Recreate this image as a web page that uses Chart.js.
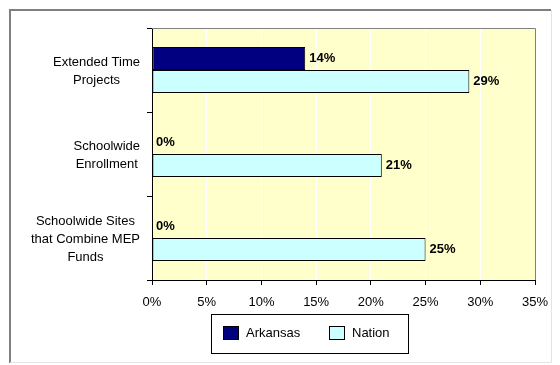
<!DOCTYPE html>
<html>
<head>
<meta charset="utf-8">
<script src="https://cdn.jsdelivr.net/npm/chart.js@4/dist/chart.umd.min.js"></script>
<style>
  body { margin: 0; background: #ffffff; }
  canvas { display: block; }
</style>
</head>
<body>
<canvas id="programChart" width="560" height="365"></canvas>
<script>
let categories = [
    ["Extended Time", "Projects"],
    ["Schoolwide", "Enrollment"],
    ["Schoolwide Sites", "that Combine MEP", "Funds"]
];
let arkansasValues = [14, 0, 0];
let nationValues = [29, 21, 25];
let xTicks = [0, 5, 10, 15, 20, 25, 30, 35];

const FONT = "'Liberation Sans', Arial, sans-serif";
const LABEL_FONT = "bold 13px 'Liberation Sans Narrow', 'Liberation Sans', Arial, sans-serif";

// plot background + outer frame
const frame = {
    id: "frame",
    beforeDraw(chart) {
        let ctx = chart.ctx;
        let a = chart.chartArea;
        ctx.save();
        ctx.fillStyle = "#ffffff";
        ctx.fillRect(0, 0, chart.width, chart.height);
        ctx.strokeStyle = "#7f7f7f";
        ctx.lineWidth = 2;
        ctx.beginPath();
        ctx.moveTo(10, 363);
        ctx.lineTo(10, 10);
        ctx.lineTo(551, 10);
        ctx.stroke();
        ctx.strokeStyle = "#e4e4e4";
        ctx.lineWidth = 1;
        ctx.beginPath();
        ctx.moveTo(551.5, 10);
        ctx.lineTo(551.5, 362.5);
        ctx.lineTo(10, 362.5);
        ctx.stroke();
        ctx.fillStyle = "#ffffcc";
        ctx.fillRect(a.left, a.top, a.right - a.left, a.bottom - a.top);
        ctx.restore();
    },
    afterDraw(chart) {
        let ctx = chart.ctx;
        let a = chart.chartArea;
        ctx.save();
        ctx.strokeStyle = "#808080";
        ctx.lineWidth = 1;
        ctx.beginPath();
        ctx.moveTo(a.left, a.top + 0.5);
        ctx.lineTo(a.right + 0.5, a.top + 0.5);
        ctx.lineTo(a.right + 0.5, a.bottom);
        ctx.stroke();
        ctx.restore();
    }
};

// category labels: block right aligned, lines centred inside the block
const catLabels = {
    id: "catLabels",
    afterDraw(chart) {
        let ctx = chart.ctx;
        let y = chart.scales.y;
        ctx.save();
        ctx.font = "13px " + FONT;
        ctx.fillStyle = "#000000";
        ctx.textAlign = "center";
        ctx.textBaseline = "middle";
        chart.data.labels.forEach(function(lines, i) {
            let w = Math.max.apply(null, lines.map(l => ctx.measureText(l).width));
            let cx = 140 - w / 2;
            let cy = y.getPixelForValue(i);
            let lh = 18;
            lines.forEach(function(l, j) {
                ctx.fillText(l, cx, cy + 1 + (j - (lines.length - 1) / 2) * lh);
            });
        });
        ctx.restore();
    }
};

// value labels right of each bar
const valueLabels = {
    id: "valueLabels",
    afterDatasetsDraw(chart) {
        let ctx = chart.ctx;
        ctx.save();
        ctx.font = LABEL_FONT;
        ctx.fillStyle = "#000000";
        ctx.textAlign = "left";
        ctx.textBaseline = "middle";
        chart.data.datasets.forEach(function(ds, i) {
            chart.getDatasetMeta(i).data.forEach(function(bar, j) {
                ctx.fillText(ds.data[j] + "%", bar.x + 4, bar.y);
            });
        });
        ctx.restore();
    }
};

// boxed legend under the plot
const boxLegend = {
    id: "boxLegend",
    afterDraw(chart) {
        let ctx = chart.ctx;
        ctx.save();
        ctx.fillStyle = "#ffffff";
        ctx.fillRect(211, 314, 197, 39);
        ctx.strokeStyle = "#000000";
        ctx.lineWidth = 1;
        ctx.strokeRect(211.5, 314.5, 197, 39);
        ctx.font = "13px " + FONT;
        ctx.textBaseline = "middle";
        let xs = [223, 329];
        chart.data.datasets.forEach(function(ds, i) {
            ctx.fillStyle = ds.backgroundColor;
            ctx.fillRect(xs[i], 326, 15, 13);
            ctx.strokeStyle = "#000000";
            ctx.strokeRect(xs[i] + 0.5, 326.5, 15, 13);
            ctx.fillStyle = "#000000";
            ctx.fillText(ds.label, xs[i] + 23, 333);
        });
        ctx.restore();
    }
};

const ctx = document.getElementById("programChart");

new Chart(ctx, {
    type: "bar",
    data: {
        labels: categories,
        datasets: [{
            label: "Arkansas",
            data: arkansasValues,
            backgroundColor: "#000080",
            borderColor: "#000000",
            borderWidth: 1,
            borderSkipped: false
        }, {
            label: "Nation",
            data: nationValues,
            backgroundColor: "#ccffff",
            borderColor: "#000000",
            borderWidth: 1,
            borderSkipped: false
        }]
    },
    options: {
        indexAxis: "y",
        responsive: false,
        animation: false,
        events: [],
        categoryPercentage: 0.55,
        barPercentage: 1,
        layout: {
            padding: { top: 28, right: 25, left: 0, bottom: 0 }
        },
        plugins: {
            legend: { display: false },
            tooltip: { enabled: false }
        },
        scales: {
            x: {
                min: 0,
                max: 35,
                afterBuildTicks: function(scale) {
                    scale.ticks = xTicks.map(v => ({ value: v }));
                },
                afterFit: function(scale) { scale.height = 85; },
                grid: { color: "#ffffff", tickColor: "#000000", tickLength: 5 },
                border: { color: "#000000" },
                ticks: {
                    color: "#000000",
                    padding: 10,
                    maxRotation: 0,
                    font: { family: FONT, size: 13 },
                    callback: v => v + "%"
                }
            },
            y: {
                afterFit: function(scale) { scale.width = 152; },
                grid: { drawOnChartArea: false, tickColor: "#000000", tickLength: 5, offset: true },
                border: { color: "#000000" },
                ticks: { display: false }
            }
        }
    },
    plugins: [frame, catLabels, valueLabels, boxLegend]
});
</script>
</body>
</html>
